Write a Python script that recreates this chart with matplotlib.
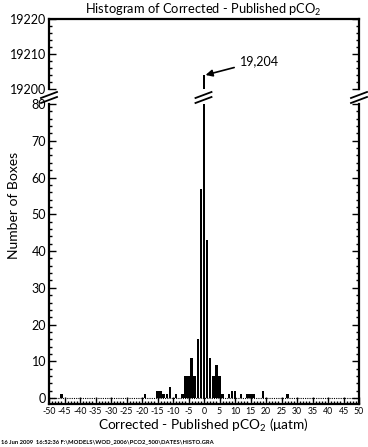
#!/usr/bin/env python3
"""
Broken-axis histogram of corrected - published pCO2 differences.
"""

import matplotlib
matplotlib.use("Agg")
import matplotlib.pyplot as plt
from matplotlib.lines import Line2D
from matplotlib.ticker import MultipleLocator

plt.rcParams['font.family'] = ['Lato', 'DejaVu Sans']
plt.rcParams['mathtext.fontset'] = 'custom'
plt.rcParams['mathtext.rm'] = 'Lato'
plt.rcParams['mathtext.it'] = 'Lato'

# bin centres (uatm) and number of boxes in each bin
bins = [-46, -19, -15, -14, -13, -12, -11, -9, -7, -6, -5, -4, -3, -2, -1,
        0, 1, 2, 3, 4, 5, 6, 8, 9, 10, 12, 14, 15, 16, 19, 27]
counts = [1, 1, 2, 2, 1, 1, 3, 1, 1, 6, 6, 11, 6, 16, 57,
          19204, 43, 11, 6, 9, 6, 1, 1, 2, 2, 1, 1, 1, 1, 2, 1]

x_ticks = list(range(-50, 51, 5))
peak_label = "19,204"

W, H = 368, 447
fig = plt.figure(figsize=(W / 100, H / 100), dpi=100)

def fx(px):
    return px / W

def fy(py):
    return 1 - py / H

ax_lo = fig.add_axes([fx(49), fy(404), fx(359) - fx(49), fy(104) - fy(404)])
ax_hi = fig.add_axes([fx(49), fy(89), fx(359) - fx(49), fy(19) - fy(89)])

for ax in (ax_lo, ax_hi):
    ax.bar(bins, counts, width=0.78, color='black', edgecolor='none')
    ax.set_xlim(-50, 50)
    for s in ax.spines.values():
        s.set_linewidth(1.6)
    ax.tick_params(which='both', direction='in', left=True, right=True,
                   width=1.0, labelsize=9, pad=2)
    ax.tick_params(which='major', length=5)
    ax.tick_params(which='minor', length=2.5)
    ax.xaxis.set_minor_locator(MultipleLocator(1))

# lower panel
ax_lo.set_ylim(-1.6, 80)
ax_lo.spines['top'].set_visible(False)
ax_lo.yaxis.set_major_locator(MultipleLocator(10))
ax_lo.yaxis.set_minor_locator(MultipleLocator(2))
ax_lo.set_xticks(x_ticks)
ax_lo.set_xticklabels([str(t) for t in x_ticks])
ax_lo.tick_params(axis='x', which='both', bottom=True, top=False, labelsize=6.3)
ax_lo.axhline(0, color='black', lw=0.8, ls=(0, (1, 1)))

# upper panel
ax_hi.set_ylim(19200, 19220)
ax_hi.spines['bottom'].set_visible(False)
ax_hi.set_yticks([19200, 19210, 19220])
ax_hi.yaxis.set_minor_locator(MultipleLocator(2))
ax_hi.tick_params(axis='x', which='both', bottom=False, top=False,
                  labelbottom=False)
ax_hi.annotate(peak_label, xy=(0.5, 19204), xytext=(11.5, 19208),
               fontsize=9, va='center', ha='left',
               arrowprops=dict(arrowstyle='-|>', color='black', lw=1.2,
                               mutation_scale=10, shrinkA=2, shrinkB=0))

# break marks
for px in (49, 203.5, 359):
    for py in (95, 100):
        fig.add_artist(Line2D([fx(px - 8), fx(px + 8)], [fy(py + 3), fy(py - 3)],
                              color='black', lw=1.3, transform=fig.transFigure))

fig.text(fx(203), fy(10), r"Histogram of Corrected - Published pCO$_2$",
         ha='center', va='center', fontsize=9.3)
fig.text(fx(14), fy(205), "Number of Boxes", rotation=90,
         ha='center', va='center', fontsize=10)
fig.text(fx(203), fy(425), r"Corrected - Published pCO$_2$ ($\mu$atm)",
         ha='center', va='center', fontsize=9.8)
fig.text(fx(1), fy(442), "16 Jun 2009  16:52:36 F:\\MODELS\\WOD_2006\\PCO2_500\\DATES\\HISTO.GRA",
         ha='left', va='center', fontsize=4.2, fontweight='bold')

fig.savefig("out.png", dpi=100)
